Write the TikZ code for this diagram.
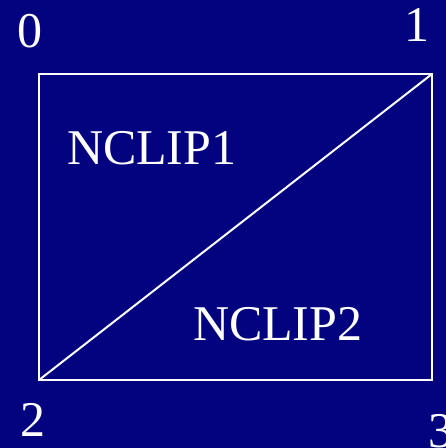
\documentclass[tikz,border=0pt]{standalone}
\usepackage{fontspec}
\setmainfont{Liberation Serif}
\usetikzlibrary{positioning}
\definecolor{navybg}{RGB}{3,3,128}
\begin{document}
\begin{tikzpicture}[x=1pt, y=-1pt, line width=2pt, every node/.style={font=\fontsize{50}{60}\selectfont, text=white, inner sep=0pt}]
\tikzstyle{corner}=[anchor=base]
\tikzstyle{region}=[anchor=base west]
\fill[navybg] (0,0) rectangle (446,448);
\useasboundingbox (0,0) rectangle (446,448);

\coordinate (c0) at (39,74);
\coordinate (c1) at (432,74);
\coordinate (c2) at (39,380);
\coordinate (c3) at (432,380);
\draw[white] (c0) rectangle (c3);
\draw[white] (c2) -- (c1);

\node[corner] (n0) at (30,47) {0};
\node[corner] (n1) at (417,41) {1};
\node[corner] (n2) at (33,436) {2};
\node[corner] (n3) at (441,447) {3};

\node[region] (clip1) at (66,164) {NCLIP1};
\node[region] (clip2) at (192,340) {NCLIP2};
\end{tikzpicture}
\end{document}
